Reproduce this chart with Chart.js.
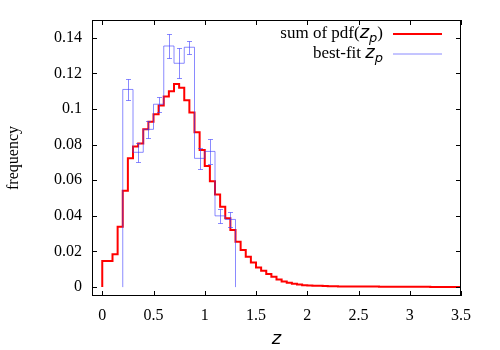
<!DOCTYPE html>
<html>
<head>
<meta charset="utf-8">
<script src="https://cdn.jsdelivr.net/npm/chart.js@4/dist/chart.umd.min.js"></script>
<style>
html, body { margin: 0; padding: 0; background: #fff; }
#wrap { width: 500px; height: 350px; }
</style>
</head>
<body>
<div id="wrap"><canvas id="chart" width="500" height="350"></canvas></div>
<script>
// sum of pdf(z_p), 0.05 wide bins from z = 0
const pdfStart = 0;
const pdfWidth = 0.05;
const pdfSum = [
    0.0146, 0.0146, 0.0184, 0.0339, 0.0541, 0.0723, 0.0789, 0.0807, 0.0886, 0.0929,
    0.0970, 0.1020, 0.1070, 0.1100, 0.1140, 0.1120, 0.1050, 0.0980, 0.0870, 0.0770,
    0.0680, 0.0595, 0.0520, 0.0451, 0.0386, 0.0320, 0.0255, 0.0208, 0.0170, 0.0138,
    0.0110, 0.0092, 0.0073, 0.0058, 0.0043, 0.0032, 0.0024, 0.0019, 0.0015, 0.0011,
    0.0009, 0.0008, 0.0007, 0.0006, 0.0005, 0.0005, 0.0004, 0.0004, 0.0004, 0.0003,
    0.0003, 0.0003, 0.0003, 0.0003, 0.0002, 0.0002, 0.0002, 0.0002, 0.0002, 0.0002,
    0.0002, 0.0002, 0.0002, 0.0002, 0.0001, 0.0001, 0.0001, 0.0001, 0.0001, 0.0001
];

// best-fit z_p, 0.1 wide bins from z = 0.2, with error bars
const fitStart = 0.2;
const fitWidth = 0.1;
const fitFreq = [0.111, 0.0757, 0.0886, 0.1027, 0.1354, 0.1257, 0.1347, 0.0723, 0.0762, 0.0400, 0.0380];
const fitErr  = [0.0060, 0.0053, 0.0046, 0.0043, 0.0068, 0.0085, 0.0037, 0.0060, 0.0068, 0.0040, 0.0043];

const xTicks = [0, 0.5, 1, 1.5, 2, 2.5, 3, 3.5];
const yTicks = [0, 0.02, 0.04, 0.06, 0.08, 0.1, 0.12, 0.14];

const RED = '#ff0000';
const BLUE = 'rgba(60, 60, 255, 0.6)';
const SERIF = '"Liberation Serif", "Times New Roman", serif';
const SANS = '"DejaVu Sans", sans-serif';

// histogram outline as points for a stepped line
function stepPoints(start, width, vals, dropAtEnd) {
    const pts = [{ x: start, y: 0 }];
    vals.forEach((v, i) => pts.push({ x: Math.round((start + i * width) * 1000) / 1000, y: v }));
    const end = Math.round((start + vals.length * width) * 1000) / 1000;
    pts.push({ x: end, y: vals[vals.length - 1] });
    if (dropAtEnd) pts.push({ x: end, y: 0 });
    return pts;
}

// frame with inward ticks, error bars and the key
const extras = {
    id: 'extras',
    afterDatasetsDraw(chart) {
        const { ctx, chartArea: a, scales: { x, y } } = chart;
        ctx.save();

        // error bars
        ctx.strokeStyle = BLUE;
        ctx.lineWidth = 1;
        fitFreq.forEach((v, i) => {
            const px = Math.round(x.getPixelForValue(fitStart + (i + 0.5) * fitWidth)) + 0.5;
            const hi = Math.round(y.getPixelForValue(v + fitErr[i])) + 0.5;
            const lo = Math.round(y.getPixelForValue(v - fitErr[i])) + 0.5;
            ctx.beginPath();
            ctx.moveTo(px, hi); ctx.lineTo(px, lo);
            ctx.moveTo(px - 2.5, hi); ctx.lineTo(px + 2.5, hi);
            ctx.moveTo(px - 2.5, lo); ctx.lineTo(px + 2.5, lo);
            ctx.stroke();
        });

        // border + ticks
        ctx.strokeStyle = '#000';
        ctx.lineWidth = 1;
        ctx.strokeRect(a.left + 0.5, a.top + 0.5, a.right - a.left - 1, a.bottom - a.top - 1);
        ctx.beginPath();
        xTicks.forEach(v => {
            const px = Math.round(x.getPixelForValue(v)) + 0.5;
            ctx.moveTo(px, a.bottom); ctx.lineTo(px, a.bottom - 5);
            ctx.moveTo(px, a.top); ctx.lineTo(px, a.top + 5);
        });
        yTicks.forEach(v => {
            const py = Math.round(y.getPixelForValue(v)) + 0.5;
            ctx.moveTo(a.left, py); ctx.lineTo(a.left + 5, py);
            ctx.moveTo(a.right, py); ctx.lineTo(a.right - 5, py);
        });
        ctx.stroke();

        // key
        const keyRight = 383;
        const rows = [
            { y: 38, color: RED, width: 2, parts: [['sum of pdf(', SERIF, 17, 0], ['z', SANS, 18, 0, true], ['p', SANS, 13, 4, true], [')', SERIF, 17, 0]] },
            { y: 58, color: BLUE, width: 1, parts: [['best-fit ', SERIF, 17, 0], ['z', SANS, 18, 0, true], ['p', SANS, 13, 4, true]] }
        ];
        ctx.fillStyle = '#000';
        ctx.textBaseline = 'alphabetic';
        ctx.textAlign = 'left';
        rows.forEach(r => {
            const fonts = r.parts.map(p => (p[4] ? 'italic ' : '') + p[2] + 'px ' + p[1]);
            let total = 0;
            r.parts.forEach((p, i) => { ctx.font = fonts[i]; total += ctx.measureText(p[0]).width; });
            let cx = keyRight - total;
            r.parts.forEach((p, i) => {
                ctx.font = fonts[i];
                ctx.fillText(p[0], cx, r.y + p[3]);
                cx += ctx.measureText(p[0]).width;
            });
            ctx.strokeStyle = r.color;
            ctx.lineWidth = r.width;
            ctx.beginPath();
            ctx.moveTo(393, r.y - 4);
            ctx.lineTo(442, r.y - 4);
            ctx.stroke();
        });
        ctx.restore();
    }
};

Chart.defaults.font.family = SERIF;
Chart.defaults.font.size = 16;
Chart.defaults.color = '#000';

new Chart(document.getElementById('chart').getContext('2d'), {
    type: 'line',
    data: {
        datasets: [{
            label: 'best-fit z_p',
            data: stepPoints(fitStart, fitWidth, fitFreq, true),
            borderColor: BLUE,
            borderWidth: 1,
            stepped: true,
            pointRadius: 0,
            fill: false,
            order: 1
        }, {
            label: 'sum of pdf(z_p)',
            data: stepPoints(pdfStart, pdfWidth, pdfSum, false),
            borderColor: RED,
            borderWidth: 2,
            stepped: true,
            pointRadius: 0,
            fill: false,
            order: 2
        }]
    },
    options: {
        responsive: false,
        animation: false,
        layout: { padding: { left: 0, right: 39, top: 20, bottom: 0 } },
        plugins: { legend: { display: false }, tooltip: { enabled: false } },
        scales: {
            x: {
                type: 'linear',
                min: -0.1,
                max: 3.5,
                afterBuildTicks: s => { s.ticks = xTicks.map(v => ({ value: v })); },
                afterFit: s => { s.height = 54; },
                grid: { display: false, drawTicks: false },
                border: { display: false },
                ticks: { padding: 10, maxRotation: 0, callback: v => String(v) },
                title: { display: true, text: 'z', font: { family: SANS, size: 18, style: 'italic' }, padding: { top: 0, bottom: 0 } }
            },
            y: {
                type: 'linear',
                min: -0.005,
                max: 0.15,
                afterBuildTicks: s => { s.ticks = yTicks.map(v => ({ value: v })); },
                afterFit: s => { s.width = 92; },
                grid: { display: false, drawTicks: false },
                border: { display: false },
                ticks: { padding: 10, callback: v => String(v) },
                title: { display: true, text: 'frequency', font: { size: 16 } }
            }
        }
    },
    plugins: [extras]
});
</script>
</body>
</html>
